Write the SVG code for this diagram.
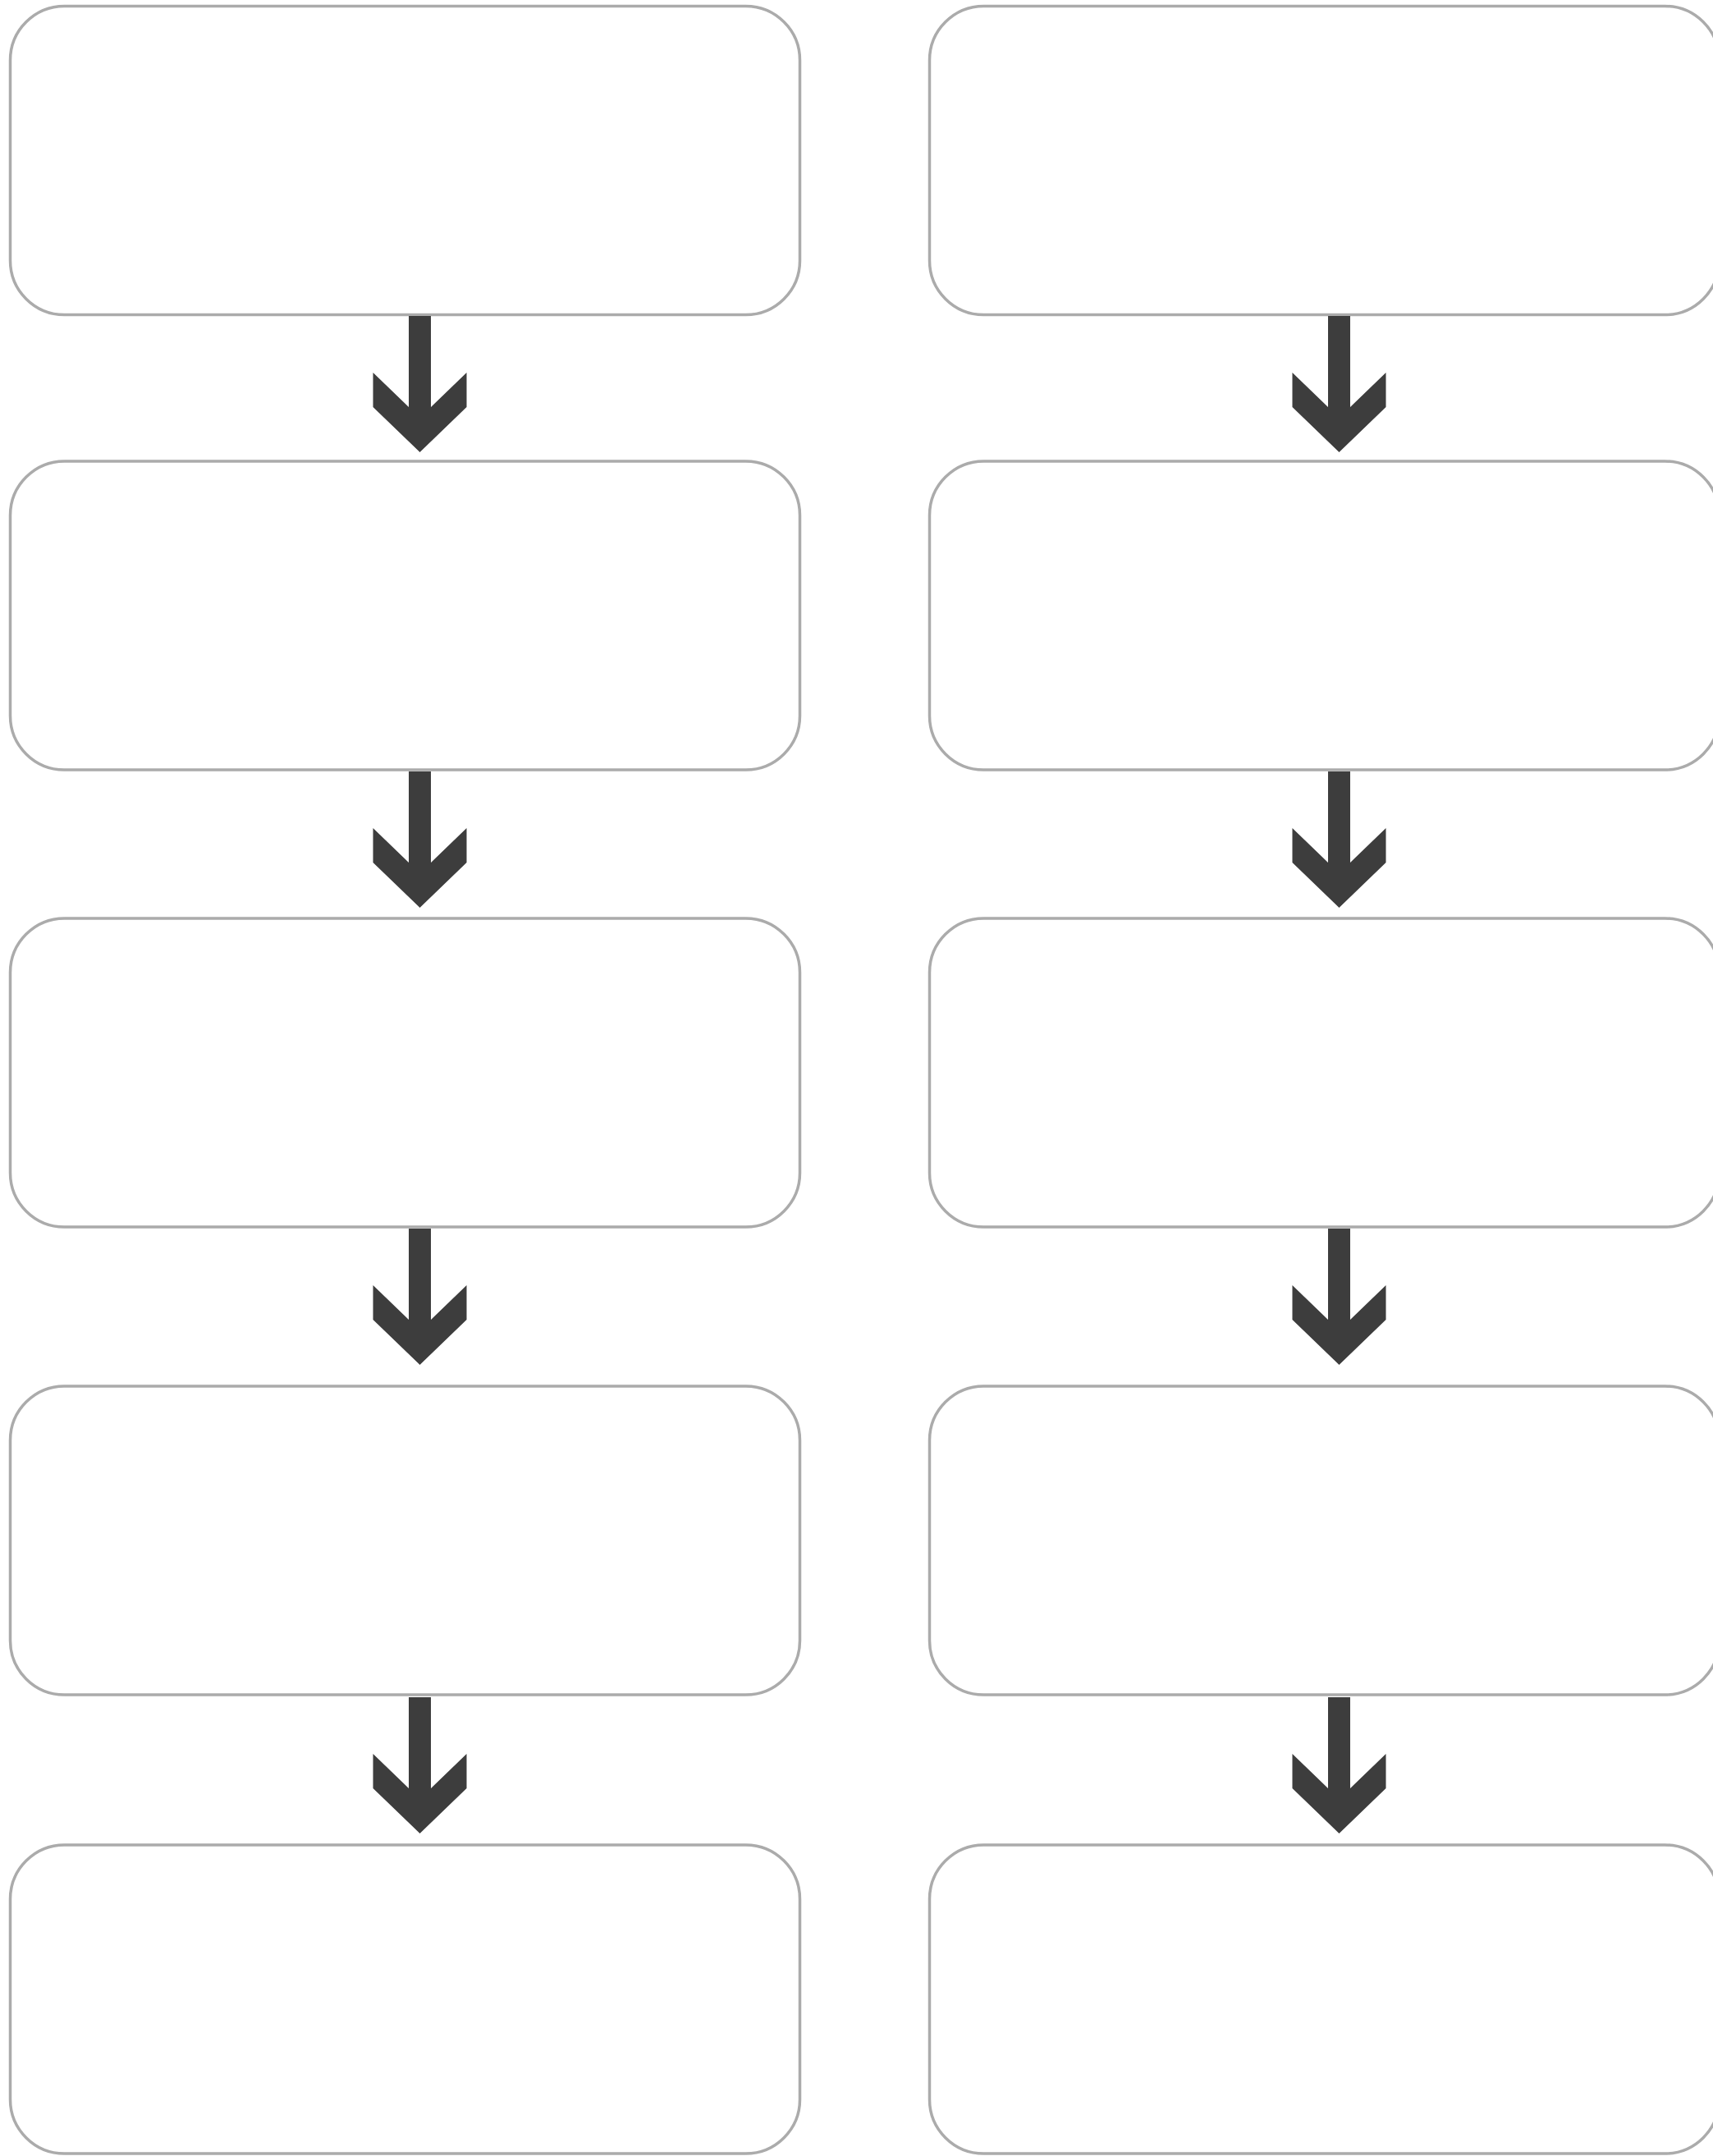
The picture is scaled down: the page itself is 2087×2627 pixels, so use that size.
<svg xmlns="http://www.w3.org/2000/svg" xmlns:xlink="http://www.w3.org/1999/xlink" width="2087" height="2627" viewBox="0 0 2087 2627">
<style>
.box{fill:#ffffff;stroke:#ababab;stroke-width:3.5}
.arrow{fill:#3d3d3d}
</style>
<defs>
<path id="arr" class="arrow" d="M-13.5,2 H13.5 V113 L57,71 V113 L0,168 L-57,113 V71 L-13.5,113 Z"/>
</defs>
<rect width="2087" height="2627" fill="#ffffff"/>
<g id="nodes">
<g id="L1"><rect class="box" x="12.5" y="7.5" width="962" height="376" rx="66" ry="66"/></g>
<g id="L2"><rect class="box" x="12.5" y="562" width="962" height="376" rx="66" ry="66"/></g>
<g id="L3"><rect class="box" x="12.5" y="1119" width="962" height="376" rx="66" ry="66"/></g>
<g id="L4"><rect class="box" x="12.5" y="1689" width="962" height="376" rx="66" ry="66"/></g>
<g id="L5"><rect class="box" x="12.5" y="2248" width="962" height="376" rx="66" ry="66"/></g>
<g id="R1"><rect class="box" x="1132.5" y="7.5" width="962" height="376" rx="66" ry="66"/></g>
<g id="R2"><rect class="box" x="1132.5" y="562" width="962" height="376" rx="66" ry="66"/></g>
<g id="R3"><rect class="box" x="1132.5" y="1119" width="962" height="376" rx="66" ry="66"/></g>
<g id="R4"><rect class="box" x="1132.5" y="1689" width="962" height="376" rx="66" ry="66"/></g>
<g id="R5"><rect class="box" x="1132.5" y="2248" width="962" height="376" rx="66" ry="66"/></g>
</g>
<g id="connectors">
<use xlink:href="#arr" x="511.5" y="383"/>
<use xlink:href="#arr" x="511.5" y="938"/>
<use xlink:href="#arr" x="511.5" y="1495"/>
<use xlink:href="#arr" x="511.5" y="2066"/>
<use xlink:href="#arr" x="1631.5" y="383"/>
<use xlink:href="#arr" x="1631.5" y="938"/>
<use xlink:href="#arr" x="1631.5" y="1495"/>
<use xlink:href="#arr" x="1631.5" y="2066"/>
</g>
</svg>
